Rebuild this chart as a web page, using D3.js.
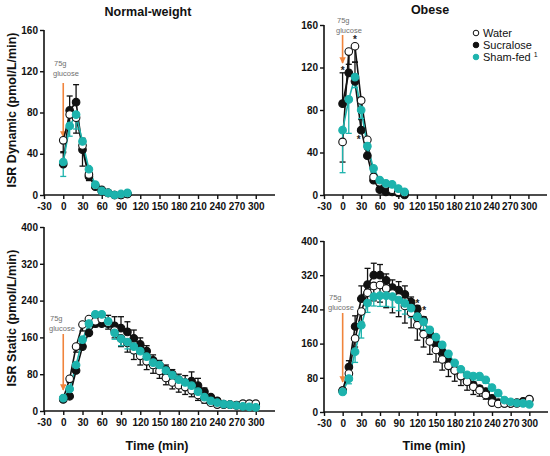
<!DOCTYPE html>
<html lang="en">
<head>
    <meta charset="UTF-8">
    <title>ISR</title>
    <script src="https://d3js.org/d3.v7.min.js"></script>
    <style>
        body { margin: 0; background: #fff; }
        svg { font-family: Arial, "Liberation Sans", sans-serif; }
        .tick text { font-weight: bold; font-size: 10px; fill: #111; }
    </style>
</head>
<body>
<svg id="chart" width="550" height="456"></svg>

<script>
    // time points (min)
    var dynTimes = [0, 10, 20, 30, 40, 50, 60, 70, 80, 90, 100];
    var statTimes = [0, 10, 20, 30, 40, 50, 60, 70, 80, 90, 100, 110, 120, 130, 140, 150,
        160, 170, 180, 190, 200, 210, 220, 230, 240, 250, 260, 270, 280, 290, 300];
    var xTicks = [-30, 0, 30, 60, 90, 120, 150, 180, 210, 240, 270, 300];
    var dynTicks = [0, 40, 80, 120, 160];
    var statTicks = [0, 80, 160, 240, 320, 400];
    var seriesNames = ["Water", "Sucralose", "Sham-fed"];

    // Normal-weight, ISR dynamic
    var nwDynWater = [53, 78, 75, 48, 20, 9, 4, 2, 0, 0, 1];
    var nwDynWaterSem = [12, 10, 15, 20, 6, 3, 2, 1, 1, 1, 1];
    var nwDynSucralose = [30, 82, 90, 44, 18, 8, 5, 2, 0, 0, 1];
    var nwDynSucraloseSem = [12, 14, 17, 11, 5, 3, 2, 1, 1, 1, 1];
    var nwDynSham = [32, 67, 78, 52, 25, 10, 4, 2, 0, 1, 2];
    var nwDynShamSem = [14, 10, 14, 8, 5, 3, 2, 1, 1, 1, 1];

    // Obese, ISR dynamic
    var obDynWater = [50, 135, 140, 89, 52, 17, 12, 10, 5, 3, 2];
    var obDynWaterSem = [19, 12, 15, 12, 8, 4, 3, 3, 2, 2, 1];
    var obDynSucralose = [86, 115, 107, 61, 37, 14, 5, 3, 3, 2, 0];
    var obDynSucraloseSem = [29, 20, 18, 10, 6, 3, 2, 1, 1, 1, 1];
    var obDynSham = [61, 90, 111, 80, 46, 25, 14, 11, 10, 6, 3];
    var obDynShamSem = [40, 32, 10, 8, 8, 4, 3, 3, 2, 2, 1];
    var obDynStars = [[0, 119], [20, 148], [26, 54]];

    // Normal-weight, ISR static
    var nwStatWater = [27, 70, 140, 188, 200, 195, 200, 192, 175, 158, 148, 132, 120, 108, 100, 87,
        72, 62, 56, 52, 45, 35, 25, 18, 14, 14, 14, 13, 16, 16, 16];
    var nwStatWaterSem = [3, 8, 12, 14, 14, 12, 12, 14, 16, 18, 20, 20, 20, 18, 18, 16,
        15, 14, 15, 16, 14, 12, 8, 5, 3, 2, 2, 2, 2, 2, 2];
    var nwStatSucralose = [25, 32, 88, 140, 170, 190, 190, 190, 185, 180, 172, 158, 145, 130, 110, 100,
        90, 80, 68, 62, 65, 55, 42, 30, 22, 15, 14, 12, 10, 10, 10];
    var nwStatSucraloseSem = [4, 5, 10, 15, 15, 15, 18, 18, 20, 25, 22, 18, 14, 12, 12, 10,
        10, 10, 12, 15, 20, 16, 8, 5, 4, 3, 2, 2, 2, 2, 2];
    var nwStatSham = [28, 48, 100, 155, 190, 210, 210, 195, 170, 157, 150, 140, 130, 118, 105, 100,
        88, 78, 68, 62, 55, 42, 30, 22, 18, 15, 14, 12, 10, 9, 8];
    var nwStatShamSem = [3, 5, 10, 12, 12, 10, 10, 12, 14, 15, 15, 15, 14, 14, 12, 12,
        12, 10, 10, 10, 10, 8, 6, 4, 3, 2, 2, 2, 2, 2, 2];

    // Obese, ISR static
    var obStatWater = [50, 90, 172, 235, 279, 295, 297, 289, 277, 268, 248, 232, 203, 182, 165, 145,
        123, 108, 97, 84, 71, 59, 51, 40, 22, 19, 20, 20, 20, 22, 30];
    var obStatWaterSem = [5, 15, 20, 25, 30, 35, 40, 45, 45, 45, 40, 35, 35, 30, 30, 28,
        25, 25, 25, 22, 20, 18, 14, 10, 6, 4, 3, 3, 3, 3, 3];
    var obStatSucralose = [50, 105, 200, 265, 298, 320, 320, 308, 291, 285, 275, 257, 241, 215, 183, 159,
        141, 118, 98, 87, 71, 63, 55, 48, 32, 22, 20, 20, 22, 25, 29];
    var obStatSucraloseSem = [5, 15, 25, 30, 38, 28, 25, 15, 18, 20, 20, 12, 8, 8, 10, 10,
        10, 10, 10, 8, 8, 8, 6, 6, 5, 4, 3, 3, 3, 3, 3];
    var obStatSham = [47, 78, 141, 203, 255, 270, 272, 272, 270, 262, 254, 243, 223, 211, 192, 175,
        157, 136, 115, 100, 87, 84, 84, 75, 57, 44, 28, 24, 21, 20, 18];
    var obStatShamSem = [5, 12, 25, 30, 22, 22, 25, 25, 25, 25, 25, 22, 20, 18, 16, 15,
        14, 14, 12, 12, 12, 12, 10, 8, 6, 5, 4, 3, 3, 3, 3];
    var obStatStars = [[120, 258], [131, 240]];

    var teal = "#1db3ad";
    var orange = "#f0843c";
    var svg = d3.select("#chart");

    var panels = [
        {x: [44, 275], y: [195, 30], max: 160, ticks: dynTicks, times: dynTimes,
            water: nwDynWater, waterSem: nwDynWaterSem, suc: nwDynSucralose, sucSem: nwDynSucraloseSem,
            sham: nwDynSham, shamSem: nwDynShamSem, stars: [], note: [54, 66, 83, 137]},
        {x: [324, 547], y: [195, 25], max: 160, ticks: dynTicks, times: dynTimes,
            water: obDynWater, waterSem: obDynWaterSem, suc: obDynSucralose, sucSem: obDynSucraloseSem,
            sham: obDynSham, shamSem: obDynShamSem, stars: obDynStars, note: [337, 23, 35, 63]},
        {x: [44, 275], y: [411, 227], max: 400, ticks: statTicks, times: statTimes,
            water: nwStatWater, waterSem: nwStatWaterSem, suc: nwStatSucralose, sucSem: nwStatSucraloseSem,
            sham: nwStatSham, shamSem: nwStatShamSem, stars: [], note: [50, 321, 334, 390]},
        {x: [324, 548], y: [412, 241], max: 400, ticks: statTicks, times: statTimes,
            water: obStatWater, waterSem: obStatWaterSem, suc: obStatSucralose, sucSem: obStatSucraloseSem,
            sham: obStatSham, shamSem: obStatShamSem, stars: obStatStars, note: [329, 300, 313, 382]}
    ];

    svg.append("defs").append("marker")
        .attr("id", "head")
        .attr("viewBox", "0 0 10 10")
        .attr("refX", 9).attr("refY", 5)
        .attr("markerWidth", 4).attr("markerHeight", 4)
        .attr("orient", "auto")
        .append("path")
        .attr("d", "M0,0L10,5L0,10z")
        .attr("fill", orange);

    panels.forEach(drawPanel);

    function drawPanel(p) {
        var x = d3.scaleLinear().domain([-30, 330]).range(p.x);
        var y = d3.scaleLinear().domain([0, p.max]).range(p.y);
        var g = svg.append("g");
        var fmt = function (d) { return String(d); };   // plain hyphen for -30

        var xAxis = g.append("g")
            .attr("transform", "translate(0," + p.y[0] + ")")
            .call(d3.axisBottom(x).tickValues(xTicks).tickFormat(fmt).tickSize(4).tickPadding(4));
        var yAxis = g.append("g")
            .attr("transform", "translate(" + p.x[0] + ",0)")
            .call(d3.axisLeft(y).tickValues(p.ticks).tickFormat(fmt).tickSize(4).tickPadding(2));
        g.selectAll(".domain").attr("stroke", "#111").attr("stroke-width", 1.6);
        xAxis.select(".domain").attr("d", "M" + p.x[0] + ",0H" + p.x[1]);
        yAxis.select(".domain").attr("d", "M0," + p.y[0] + "V" + p.y[1]);
        g.selectAll(".tick line").attr("stroke", "#111").attr("stroke-width", 1.4);

        // glucose arrow
        var n = p.note;
        g.append("text").attr("x", n[0]).attr("y", n[1]).text("75g")
            .attr("font-size", 7.5).attr("fill", "#707070");
        g.append("text").attr("x", n[0] - 1).attr("y", n[1] + 10).text("glucose")
            .attr("font-size", 7.5).attr("fill", "#707070");
        g.append("line")
            .attr("x1", x(0)).attr("x2", x(0))
            .attr("y1", n[2]).attr("y2", n[3])
            .attr("stroke", orange).attr("stroke-width", 1.6)
            .attr("marker-end", "url(#head)");

        var series = [
            {v: p.suc, e: p.sucSem, dir: 1, color: "#111", fill: "#111"},
            {v: p.water, e: p.waterSem, dir: -1, color: "#111", fill: "#fff"},
            {v: p.sham, e: p.shamSem, dir: -1, color: teal, fill: teal}
        ];

        series.forEach(function (s) {
            var pts = p.times.map(function (t, i) { return {t: t, v: s.v[i], e: s.e[i]}; });
            var eb = g.append("g");
            pts.forEach(function (d) {
                var yEnd = y(d.v + s.dir * d.e);
                eb.append("line").attr("x1", x(d.t)).attr("x2", x(d.t))
                    .attr("y1", y(d.v)).attr("y2", yEnd)
                    .attr("stroke", s.color).attr("stroke-width", 1.3);
                eb.append("line").attr("x1", x(d.t) - 3).attr("x2", x(d.t) + 3)
                    .attr("y1", yEnd).attr("y2", yEnd)
                    .attr("stroke", s.color).attr("stroke-width", 1.3);
            });
            g.append("path").datum(pts)
                .attr("d", d3.line().x(function (d) { return x(d.t); }).y(function (d) { return y(d.v); }))
                .attr("fill", "none").attr("stroke", s.color).attr("stroke-width", 1.6);
        });

        series.forEach(function (s) {
            g.append("g").selectAll("circle").data(p.times).enter().append("circle")
                .attr("cx", function (t) { return x(t); })
                .attr("cy", function (t, i) { return y(s.v[i]); })
                .attr("r", 3.8)
                .attr("fill", s.fill)
                .attr("stroke", s.color).attr("stroke-width", 1.1);
        });

        p.stars.forEach(function (st) {
            g.append("text").attr("x", x(st[0])).attr("y", y(st[1]) + 5)
                .attr("text-anchor", "middle").attr("font-size", 10).attr("font-weight", "bold")
                .attr("fill", "#222").text("*");
        });
    }

    // titles and axis labels
    function label(txt, xx, yy, rot) {
        svg.append("text")
            .attr("transform", "translate(" + xx + "," + yy + ")" + (rot ? " rotate(-90)" : ""))
            .attr("text-anchor", "middle").attr("font-size", 12.5).attr("font-weight", "bold")
            .attr("fill", "#111").text(txt);
    }
    label("Normal-weight", 148, 16);
    label("Obese", 430, 14);
    label("ISR Dynamic (pmol/L/min)", 16, 110, true);
    label("ISR Static (pmol/L/min)", 16, 318, true);
    label("Time (min)", 157, 450);
    label("Time (min)", 434, 450);

    // legend
    var legend = svg.append("g").attr("transform", "translate(476,33)");
    var legFill = ["#fff", "#111", teal];
    var legStroke = ["#111", "#111", teal];
    seriesNames.forEach(function (name, i) {
        var row = legend.append("g").attr("transform", "translate(0," + (i * 12) + ")");
        row.append("circle").attr("r", 2.8).attr("fill", legFill[i])
            .attr("stroke", legStroke[i]).attr("stroke-width", 1);
        var t = row.append("text").attr("x", 7).attr("y", 4).attr("font-size", 11).attr("fill", "#111").text(name);
        if (i === 2) {
            t.append("tspan").attr("dx", 3).attr("dy", -4).attr("font-size", 7).text("1");
        }
    });
</script>
</body>
</html>
